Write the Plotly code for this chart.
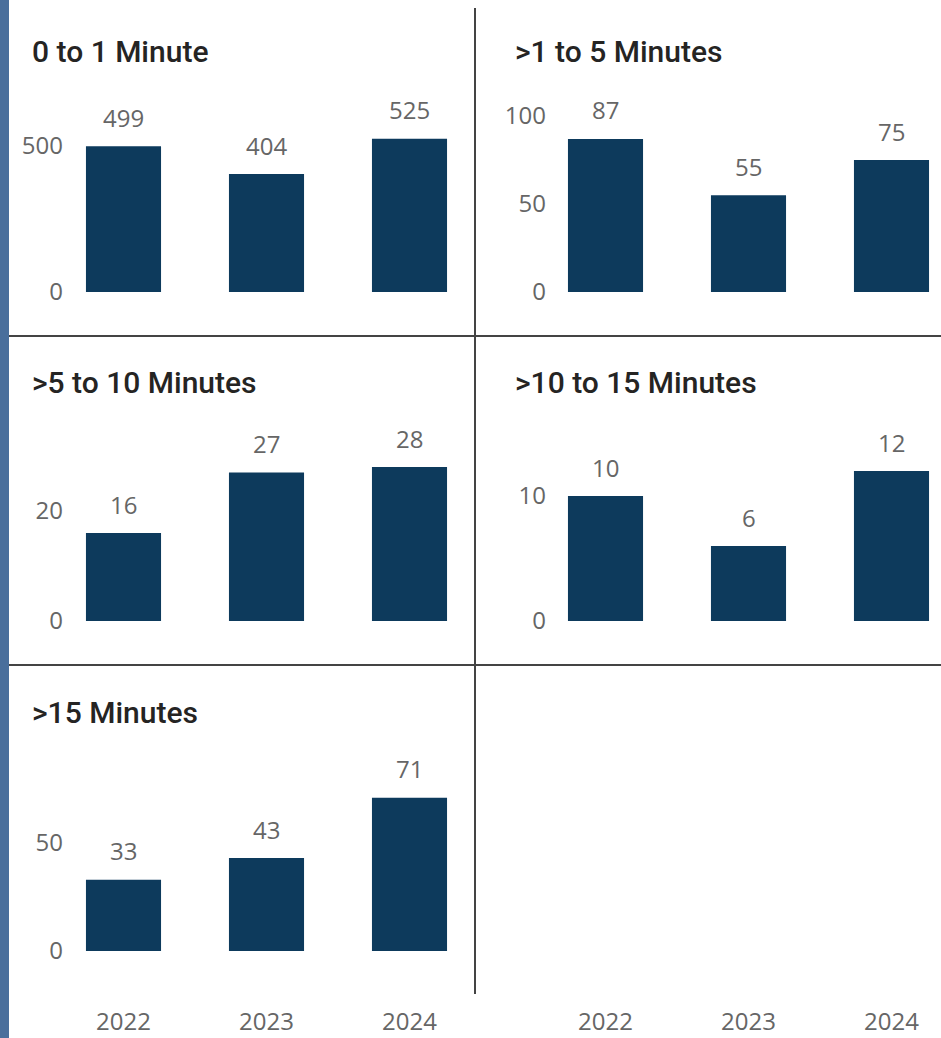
import plotly.graph_objects as go

# ---- data ----
years = ["2022", "2023", "2024"]
titles = ["0 to 1 Minute", ">1 to 5 Minutes", ">5 to 10 Minutes", ">10 to 15 Minutes", ">15 Minutes"]
v_0_1 = [499, 404, 525]
v_1_5 = [87, 55, 75]
v_5_10 = [16, 27, 28]
v_10_15 = [10, 6, 12]
v_15_plus = [33, 43, 71]
series = [v_0_1, v_1_5, v_5_10, v_10_15, v_15_plus]
y_dticks = [500, 50, 20, 10, 50]

# ---- layout geometry (pixels, reference coordinates) ----
W, H = 941, 1038
FIG_H = 1053
BAR = "#0d3a5c"
GREY = "#666666"
TITLE_C = "#252423"
LINE_C = "#444444"

col_px = [(66, 465, 123.5), (549, 935, 605.5)]   # domain left, right, first bar centre
row_px = [(90, 292), (420, 621), (750, 951)]     # plot top, zero line
px_per_unit = [0.292, 1.76, 5.5, 12.5, 2.16]
step = 143.0
title_pos = [(30, 51), (513, 51), (30, 382), (513, 382), (30, 712)]

fig = go.Figure()
layout = dict(width=W, height=FIG_H, margin=dict(l=0, r=0, t=0, b=0),
              paper_bgcolor="white", plot_bgcolor="white", showlegend=False)
annotations = []

for i in range(6):
    r, c = divmod(i, 2)
    a, b, c0 = col_px[c]
    top, zero = row_px[r]
    xa = "xaxis" if i == 0 else f"xaxis{i+1}"
    ya = "yaxis" if i == 0 else f"yaxis{i+1}"
    xr = "x" if i == 0 else f"x{i+1}"
    yr = "y" if i == 0 else f"y{i+1}"
    bottom_row = (r == 2)
    layout[xa] = dict(domain=[a / W, b / W], anchor=yr, type="category",
                      categoryorder="array", categoryarray=years,
                      range=[(a - c0) / step, (b - c0) / step],
                      showgrid=False, zeroline=False, showline=False, ticks="",
                      showticklabels=bottom_row, ticklabelstandoff=54,
                      tickfont=dict(family="Open Sans", size=24, color=GREY),
                      fixedrange=True)
    if i < 5:
        vals = series[i]
        ymax = (zero - top) / px_per_unit[i]
        layout[ya] = dict(domain=[1 - zero / H, 1 - top / H], anchor=xr,
                          range=[0, ymax], dtick=y_dticks[i], tick0=0,
                          showgrid=False, zeroline=False, showline=False, ticks="",
                          ticklabelstandoff=2,
                          tickfont=dict(family="Open Sans", size=24, color=GREY),
                          fixedrange=True)
        fig.add_trace(go.Bar(x=years, y=vals, xaxis=xr, yaxis=yr,
                             marker=dict(color=BAR, line=dict(width=0)),
                             width=0.525, hoverinfo="x+y"))
        for k, v in enumerate(vals):
            annotations.append(dict(x=k, y=v, xref=xr, yref=yr, text=str(v),
                                    showarrow=False, yanchor="middle", yshift=29,
                                    font=dict(family="Open Sans", size=24, color=GREY)))
        tx, ty = title_pos[i]
        annotations.append(dict(x=tx / W, y=1 - ty / H, xref="paper", yref="paper",
                                xanchor="left", yanchor="middle", text=titles[i],
                                showarrow=False,
                                font=dict(family="Roboto", size=30, color=TITLE_C, weight=500)))
    else:
        layout[ya] = dict(domain=[1 - zero / H, 1 - top / H], anchor=xr, range=[0, 1],
                          visible=False, fixedrange=True)
        fig.add_trace(go.Bar(x=years, y=[0, 0, 0], xaxis=xr, yaxis=yr,
                             marker=dict(color=BAR, line=dict(width=0)),
                             width=0.525, hoverinfo="skip"))

shapes = [
    dict(type="rect", xref="paper", yref="paper", x0=0, x1=9 / W, y0=0, y1=1,
         fillcolor="#4a6f9c", line=dict(width=0), layer="above"),
    dict(type="line", xref="paper", yref="paper", x0=475 / W, x1=475 / W,
         y0=1 - 8 / H, y1=1 - 994 / H, line=dict(color=LINE_C, width=2)),
    dict(type="line", xref="paper", yref="paper", x0=9 / W, x1=1,
         y0=1 - 336 / H, y1=1 - 336 / H, line=dict(color=LINE_C, width=2)),
    dict(type="line", xref="paper", yref="paper", x0=9 / W, x1=1,
         y0=1 - 665 / H, y1=1 - 665 / H, line=dict(color=LINE_C, width=2)),
]
layout["shapes"] = shapes
layout["annotations"] = annotations
fig.update_layout(**layout)
fig.write_html("out.html")
